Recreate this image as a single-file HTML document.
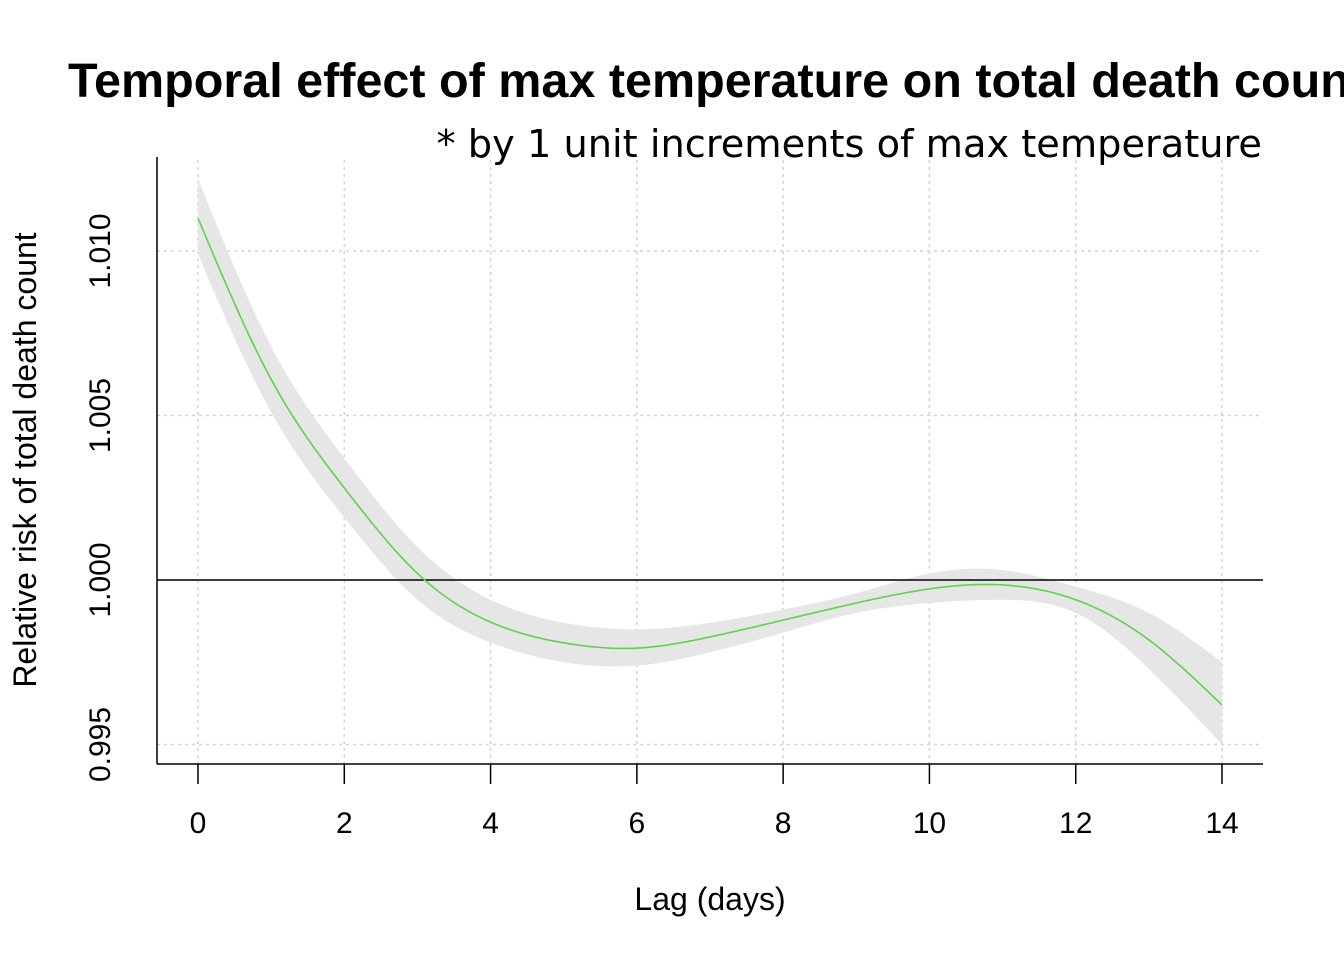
<!DOCTYPE html>
<html><head><meta charset="utf-8"><style>
html,body{margin:0;padding:0;background:#fff;overflow:hidden;}
svg{display:block;font-family:"Liberation Sans",sans-serif;}
</style></head><body>
<svg id="chart" width="1344" height="960">
<text x="68" y="97" font-size="48.5" font-weight="bold">Temporal effect of max temperature on total death count</text>
<text x="1262" y="157" font-size="38.3" text-anchor="end" font-family="DejaVu Sans, sans-serif">* by 1 unit increments of max temperature</text>
<g id="grid"></g>
<g id="plot"></g>
<g id="axes"></g>
<text x="710" y="910" font-size="32" text-anchor="middle">Lag (days)</text>
<text transform="translate(36,460) rotate(-90)" font-size="32" text-anchor="middle">Relative risk of total death count</text>
</svg>
<script>
const lags = [0,1,2,3,4,5,6,7,8,9,10,11,12,13,14];
const rrFit = [1.0110,1.0061,1.0028,1.0002,0.99872,0.99809,0.99793,0.99827,0.99878,0.9993,0.99973,0.99985,0.9994,0.99818,0.9962];
const rrUpper = [1.0122,1.0071,1.0037,1.0010,0.9994,0.9987,0.9985,0.9987,0.9991,0.9996,1.0002,1.0003,0.9998,0.9990,0.9975];
const rrLower = [1.0099,1.0051,1.0019,0.9994,0.9981,0.9975,0.9974,0.9978,0.9984,0.9990,0.9993,0.9994,0.9990,0.9973,0.9950];
const xTicks = [0,2,4,6,8,10,12,14];
const yTicks = [0.995,1.000,1.005,1.010];
const yTickLabels = ["0.995","1.000","1.005","1.010"];

const NS="http://www.w3.org/2000/svg";
const X = v => 198 + v*(1222-198)/14;
const Y = v => 580 - (v-1.0)*(580-251)/0.010;
function mk(tag, attrs, parent){const e=document.createElementNS(NS,tag);for(const k in attrs)e.setAttribute(k,attrs[k]);parent.appendChild(e);return e;}
function spline(xs, ys){
  const n=xs.length, h=[], a=[], l=[1], mu=[0], z=[0], c=new Array(n).fill(0), b=[], d=[];
  for(let i=0;i<n-1;i++)h[i]=xs[i+1]-xs[i];
  for(let i=1;i<n-1;i++)a[i]=3/h[i]*(ys[i+1]-ys[i])-3/h[i-1]*(ys[i]-ys[i-1]);
  for(let i=1;i<n-1;i++){l[i]=2*(xs[i+1]-xs[i-1])-h[i-1]*mu[i-1];mu[i]=h[i]/l[i];z[i]=(a[i]-h[i-1]*z[i-1])/l[i];}
  l[n-1]=1;z[n-1]=0;
  for(let j=n-2;j>=0;j--){c[j]=z[j]-mu[j]*c[j+1];b[j]=(ys[j+1]-ys[j])/h[j]-h[j]*(c[j+1]+2*c[j])/3;d[j]=(c[j+1]-c[j])/(3*h[j]);}
  const out=[];
  for(let j=0;j<n-1;j++){
    for(let s=0;s<20;s++){const t=s/20*h[j];out.push([xs[j]+t, ys[j]+b[j]*t+c[j]*t*t+d[j]*t*t*t]);}
  }
  out.push([xs[n-1],ys[n-1]]);
  return out;
}
const toPx = pts => pts.map(p=>[X(p[0]),Y(p[1])]);
const pathOf = pts => 'M'+pts.map(p=>p[0].toFixed(2)+','+p[1].toFixed(2)).join(' L');
const grid=document.getElementById('grid'),plot=document.getElementById('plot'),axes=document.getElementById('axes');
xTicks.forEach(t=>{
  const l=mk('line',{x1:X(t),x2:X(t),y1:160,y2:764,stroke:'#d3d3d3','stroke-width':1.5,'stroke-dasharray':'3,4'},grid);
  
  
});
yTicks.forEach(t=>{
  const l=mk('line',{x1:157,x2:1263,y1:Y(t),y2:Y(t),stroke:'#d3d3d3','stroke-width':1.5,'stroke-dasharray':'3,4'},grid);
  
  
});
const up=toPx(spline(lags,rrUpper));
const lo=toPx(spline(lags,rrLower)).reverse();
const band=mk('path',{d:pathOf(up.concat(lo))+' Z',fill:'#e6e6e6',stroke:'none'},plot);


const ref=mk('line',{x1:157,x2:1263,y1:Y(1),y2:Y(1),stroke:'#000','stroke-width':1.5},plot);


const fit=mk('path',{d:pathOf(toPx(spline(lags,rrFit))),fill:'none',stroke:'#61d04f','stroke-width':1.6},plot);


mk('line',{x1:157,x2:157,y1:157,y2:764,stroke:'#000','stroke-width':1.5},axes);
mk('line',{x1:157,x2:1263,y1:764,y2:764,stroke:'#000','stroke-width':1.5},axes);
xTicks.forEach(t=>{
  mk('line',{x1:X(t),x2:X(t),y1:764,y2:784,stroke:'#000','stroke-width':1.5},axes);
  const tx=mk('text',{x:X(t),y:833,'font-size':30,'text-anchor':'middle'},axes);
  tx.textContent=t;
  
  
});
yTicks.forEach((t,i)=>{
  const tx=mk('text',{transform:`translate(110,${Y(t)}) rotate(-90)`,'font-size':30,'text-anchor':'middle'},axes);
  tx.textContent=yTickLabels[i];
  
  
});
</script>
</body></html>
